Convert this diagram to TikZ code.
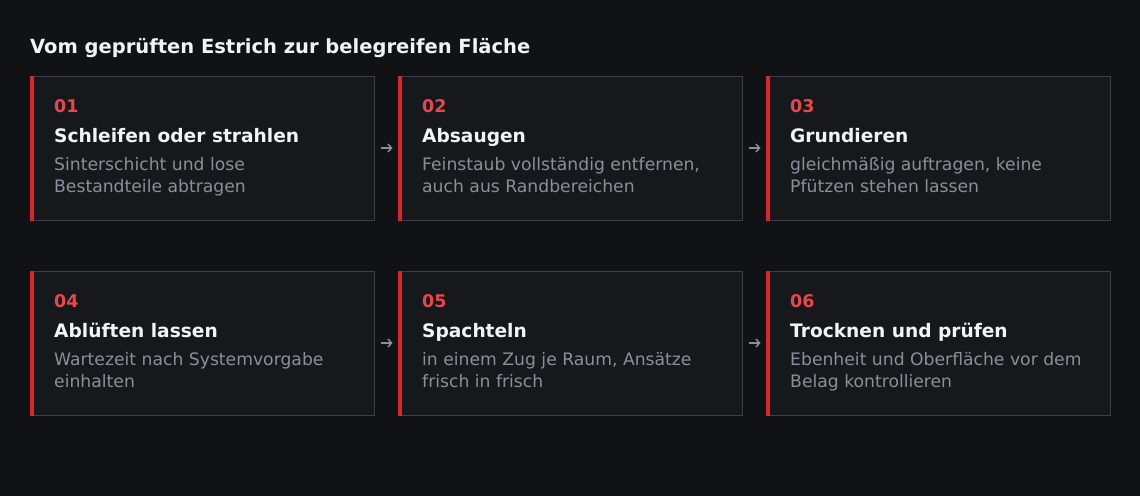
\documentclass[tikz,border=0pt]{standalone}
\usepackage{fontspec}
\setmainfont{DejaVu Sans}
\usetikzlibrary{arrows.meta}

\definecolor{bgdark}{HTML}{111215}
\definecolor{boxfill}{HTML}{16181B}
\definecolor{boxline}{HTML}{3B3E43}
\definecolor{accent}{HTML}{D9262B}
\definecolor{numred}{HTML}{E5484D}
\definecolor{headwhite}{HTML}{F2F3F5}
\definecolor{descgray}{HTML}{8A8F98}

\tikzstyle{stepbox} = [rectangle, draw=boxline, fill=boxfill, line width=1pt,
     minimum width=344pt, minimum height=144pt, inner sep=0pt]
\tikzstyle{num} = [anchor=base west, inner sep=0pt, text=numred, font=\fontsize{17.5}{20}\selectfont\bfseries]
\tikzstyle{head} = [anchor=base west, inner sep=0pt, text=headwhite, font=\fontsize{18.6}{22}\selectfont\bfseries]
\tikzstyle{desc} = [anchor=base west, inner sep=0pt, text=descgray, align=left, font=\fontsize{17.2}{22.5}\selectfont]
\tikzstyle{arrow} = [draw=descgray, line width=1.5pt, -{Straight Barb[length=3.5pt,width=8pt]}, shorten <=6pt, shorten >=5pt]

\begin{document}
\begin{tikzpicture}[x=1pt,y=-1pt]
\useasboundingbox[fill=bgdark] (0,0) rectangle (1140,496);
\node[anchor=base west, inner sep=0pt, text=headwhite, font=\fontsize{19.5}{23}\selectfont\bfseries](title) at (30,53) {Vom geprüften Estrich zur belegreifen Fläche};

% first row
\node[stepbox](s1) at (202,148) {};
\node[stepbox](s2) at (570,148) {};
\node[stepbox](s3) at (938,148) {};
% second row
\node[stepbox](s4) at (202,343) {};
\node[stepbox](s5) at (570,343) {};
\node[stepbox](s6) at (938,343) {};

\foreach \s in {s1,s2,s3,s4,s5,s6}
  \fill[accent] (\s.north west) rectangle ([xshift=4pt]\s.south west);

\node[num] (n1) at (54,112) {01};
\node[head] (h1) at (54,142) {Schleifen oder strahlen};
\node[desc] (d1) at (54,192.5) {Sinterschicht und lose\\Bestandteile abtragen};

\node[num] (n2) at (422,112) {02};
\node[head] (h2) at (422,142) {Absaugen};
\node[desc] (d2) at (422,192.5) {Feinstaub vollständig entfernen,\\auch aus Randbereichen};

\node[num] (n3) at (790,112) {03};
\node[head] (h3) at (790,142) {Grundieren};
\node[desc] (d3) at (790,192.5) {gleichmäßig auftragen, keine\\Pfützen stehen lassen};

\node[num] (n4) at (54,307) {04};
\node[head] (h4) at (54,337) {Ablüften lassen};
\node[desc] (d4) at (54,387.5) {Wartezeit nach Systemvorgabe\\einhalten};

\node[num] (n5) at (422,307) {05};
\node[head] (h5) at (422,337) {Spachteln};
\node[desc] (d5) at (422,387.5) {in einem Zug je Raum, Ansätze\\frisch in frisch};

\node[num] (n6) at (790,307) {06};
\node[head] (h6) at (790,337) {Trocknen und prüfen};
\node[desc] (d6) at (790,387.5) {Ebenheit und Oberfläche vor dem\\Belag kontrollieren};

\path[arrow] (s1.east)--(s2.west);
\path[arrow] (s2.east)--(s3.west);
\path[arrow] (s4.east)--(s5.west);
\path[arrow] (s5.east)--(s6.west);
\end{tikzpicture}
\end{document}
